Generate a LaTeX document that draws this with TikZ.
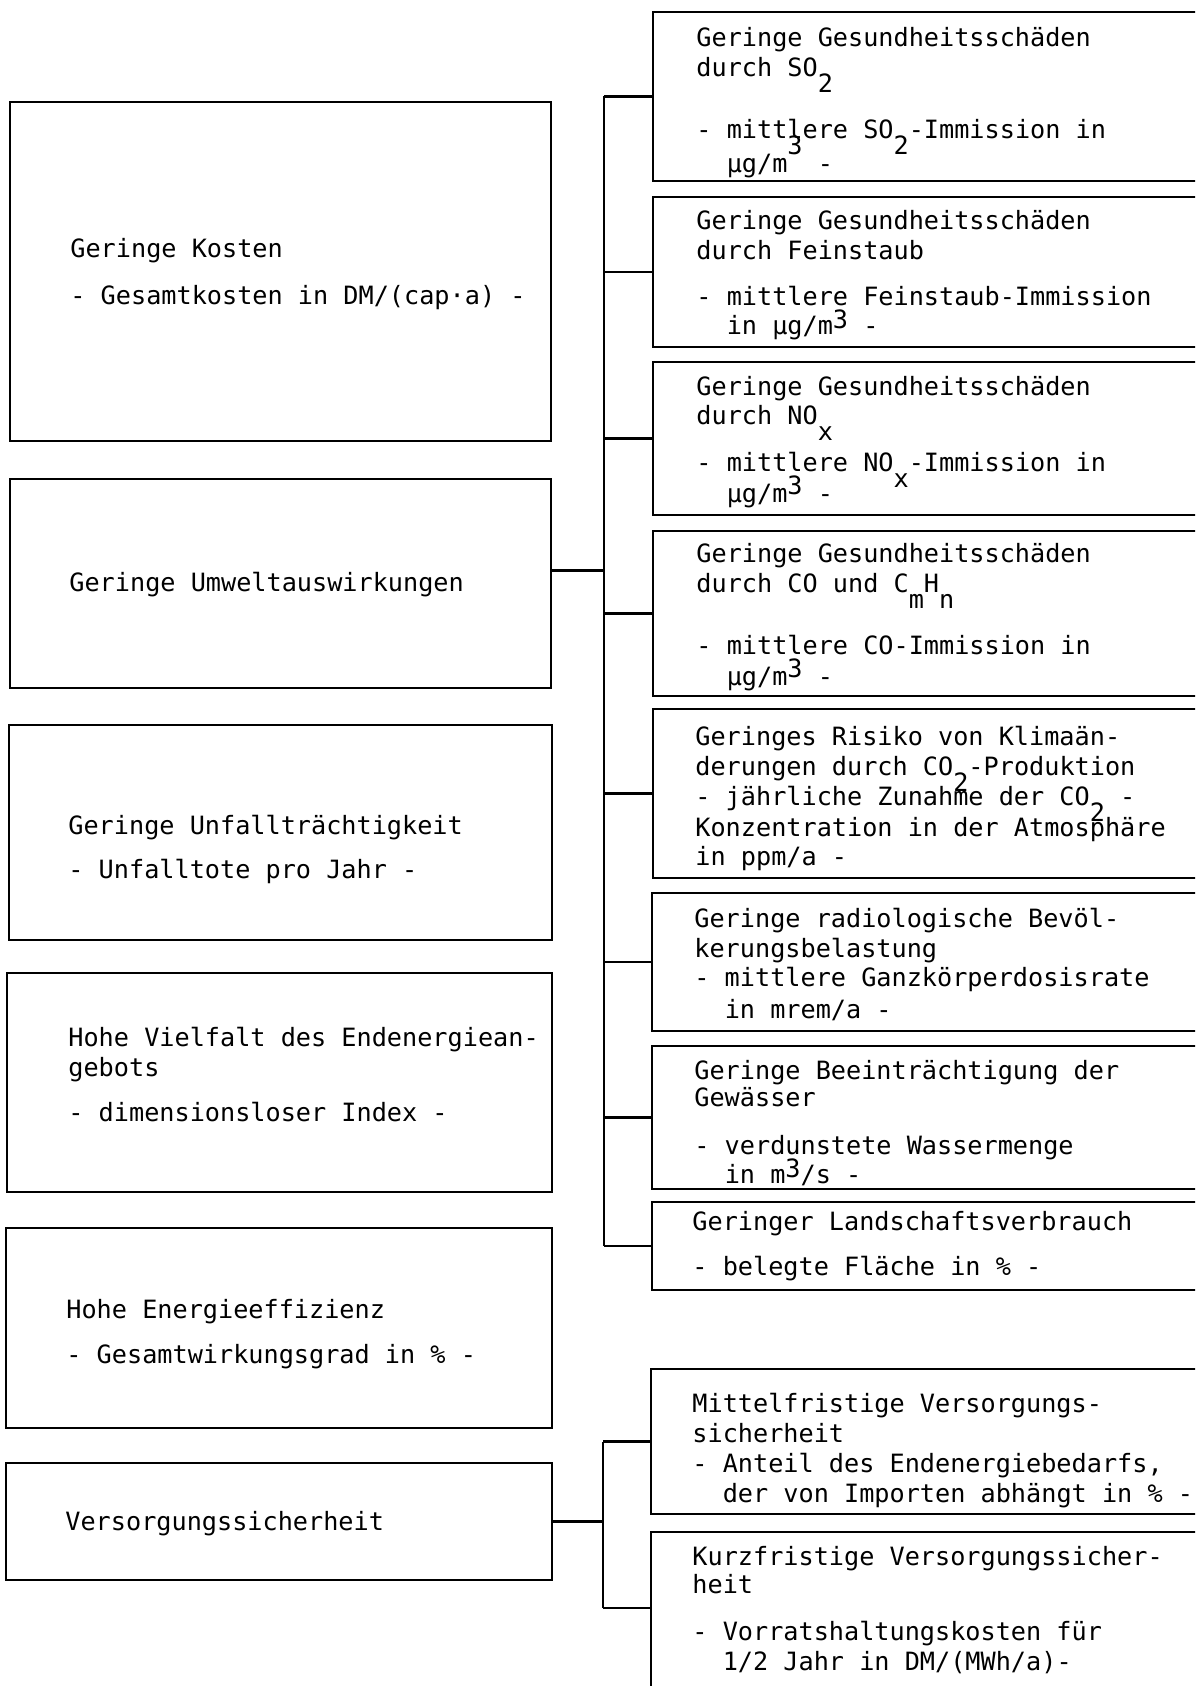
\documentclass[tikz,border=0pt]{standalone}
\usepackage{fontspec}
\newfontfamily\twfont{DejaVu Sans Mono}
\usetikzlibrary{fit}
% typewriter-style shifted indices (full size, moved by half a line)
\newcommand\subtw[1]{\raisebox{-8pt}{#1}}
\newcommand\suptw[2][4pt]{\raisebox{#1}{#2}}
\newcommand\ind{\phantom{xx}}
\newcommand\tline[4]{\node[txt] (#1) at (#2,#3) {#4};}

\begin{document}
\begin{tikzpicture}[x=0.5pt,y=-0.5pt,
  frame/.style={draw, line width=1.35pt, inner sep=0pt},
  wire/.style={line width=1.35pt},
  txt/.style={anchor=base west, inner sep=0pt,
    font=\twfont\fontsize{12.6pt}{15pt}\selectfont}]
\useasboundingbox (0,0) rectangle (1195,1686);
\clip (0,0) rectangle (1195,1686);

% ---- main objectives (left column)
\node[frame, fit={(10,102) (551,441)}] (lb1) {};
\node[frame, fit={(10,479) (551,688)}] (lb2) {};
\node[frame, fit={(9,725) (552,940)}] (lb3) {};
\node[frame, fit={(7,973) (552,1192)}] (lb4) {};
\node[frame, fit={(6,1228) (552,1428)}] (lb5) {};
\node[frame, fit={(6,1463) (552,1580)}] (lb6) {};

\tline{l1a}{70}{257}{Geringe Kosten}
\tline{l1b}{70}{304}{- Gesamtkosten in DM/(cap·a) -}
\tline{l2a}{69}{591}{Geringe Umweltauswirkungen}
\tline{l3a}{68}{834}{Geringe Unfallträchtigkeit}
\tline{l3b}{68}{878}{- Unfalltote pro Jahr -}
\tline{l4a}{68}{1046}{Hohe Vielfalt des Endenergiean-}
\tline{l4b}{68}{1076}{gebots}
\tline{l4c}{68}{1121}{- dimensionsloser Index -}
\tline{l5a}{66}{1318}{Hohe Energieeffizienz}
\tline{l5b}{66}{1363}{- Gesamtwirkungsgrad in \% -}
\tline{l6a}{65}{1530}{Versorgungssicherheit}

% ---- sub-objectives (right column, open to the right)
\node[frame, fit={(653,12) (1215,181)}] (rb1) {};
\node[frame, fit={(653,197) (1215,347)}] (rb2) {};
\node[frame, fit={(653,362) (1215,515)}] (rb3) {};
\node[frame, fit={(653,531) (1215,696)}] (rb4) {};
\node[frame, fit={(653,709) (1215,878)}] (rb5) {};
\node[frame, fit={(652,893) (1215,1031)}] (rb6) {};
\node[frame, fit={(652,1046) (1215,1189)}] (rb7) {};
\node[frame, fit={(652,1202) (1215,1290)}] (rb8) {};
\node[frame, fit={(651,1369) (1215,1514)}] (rb9) {};
\node[frame, fit={(651,1532) (1215,1700)}] (rb10) {};

\tline{r1a}{696}{47}{Geringe Gesundheitsschäden}
\tline{r1b}{696}{77}{durch SO\subtw{2}}
\tline{r1c}{696}{139}{- mittlere SO\subtw{2}-Immission in}
\tline{r1d}{696}{172}{\ind µg/m\suptw[9pt]{3} -}

\tline{r2a}{696}{229}{Geringe Gesundheitsschäden}
\tline{r2b}{696}{259}{durch Feinstaub}
\tline{r2c}{696}{305}{- mittlere Feinstaub-Immission}
\tline{r2d}{696}{334}{\ind in µg/m\suptw[3pt]{3} -}

\tline{r3a}{696}{395}{Geringe Gesundheitsschäden}
\tline{r3b}{696}{424}{durch NO\subtw{x}}
\tline{r3c}{696}{471}{- mittlere NO\subtw{x}-Immission in}
\tline{r3d}{696}{502}{\ind µg/m\suptw{3} -}

\tline{r4a}{696}{562}{Geringe Gesundheitsschäden}
\tline{r4b}{696}{592}{durch CO und C\subtw{m}H\subtw{n}}
\tline{r4c}{696}{654}{- mittlere CO-Immission in}
\tline{r4d}{696}{685}{\ind µg/m\suptw{3} -}

\tline{r5a}{695}{745}{Geringes Risiko von Klimaän-}
\tline{r5b}{695}{775}{derungen durch CO\subtw{2}-Produktion}
\tline{r5c}{695}{805}{- jährliche Zunahme der CO\subtw{2} -}
\tline{r5d}{695}{836}{Konzentration in der Atmosphäre}
\tline{r5e}{695}{865}{in ppm/a -}

\tline{r6a}{694}{927}{Geringe radiologische Bevöl-}
\tline{r6b}{694}{957}{kerungsbelastung}
\tline{r6c}{694}{986}{- mittlere Ganzkörperdosisrate}
\tline{r6d}{694}{1018}{\ind in mrem/a -}

\tline{r7a}{694}{1079}{Geringe Beeinträchtigung der}
\tline{r7b}{694}{1106}{Gewässer}
\tline{r7c}{694}{1154}{- verdunstete Wassermenge}
\tline{r7d}{694}{1183}{\ind in m\suptw[3pt]{3}/s -}

\tline{r8a}{692}{1230}{Geringer Landschaftsverbrauch}
\tline{r8b}{692}{1275}{- belegte Fläche in \% -}

\tline{r9a}{692}{1412}{Mittelfristige Versorgungs-}
\tline{r9b}{692}{1442}{sicherheit}
\tline{r9c}{692}{1472}{- Anteil des Endenergiebedarfs,}
\tline{r9d}{692}{1502}{\ind der von Importen abhängt in \% -}

\tline{r10a}{692}{1565}{Kurzfristige Versorgungssicher-}
\tline{r10b}{692}{1593}{heit}
\tline{r10c}{692}{1640}{- Vorratshaltungskosten für}
\tline{r10d}{692}{1670}{\ind 1/2 Jahr in DM/(MWh/a)-}

% ---- connectors
\coordinate (bus) at (604,0);
\coordinate (bus2) at (603,0);
\coordinate (j2) at ([yshift=6.5pt]lb2.east);
\coordinate (k10) at (rb10.west |- 0,1608);

\draw[wire] (j2) -- (bus |- j2);
\draw[wire] (bus |- rb1.west) -- (bus |- rb8.west);
\foreach \r in {rb1,rb2,rb3,rb4,rb5,rb6,rb7,rb8}
  \draw[wire] (\r.west) -- (bus |- \r.west);

\draw[wire] (lb6.east) -- (bus2 |- lb6.east);
\draw[wire] (bus2 |- rb9.west) -- (bus2 |- k10);
\draw[wire] (rb9.west) -- (bus2 |- rb9.west);
\draw[wire] (k10) -- (bus2 |- k10);
\end{tikzpicture}
\end{document}
